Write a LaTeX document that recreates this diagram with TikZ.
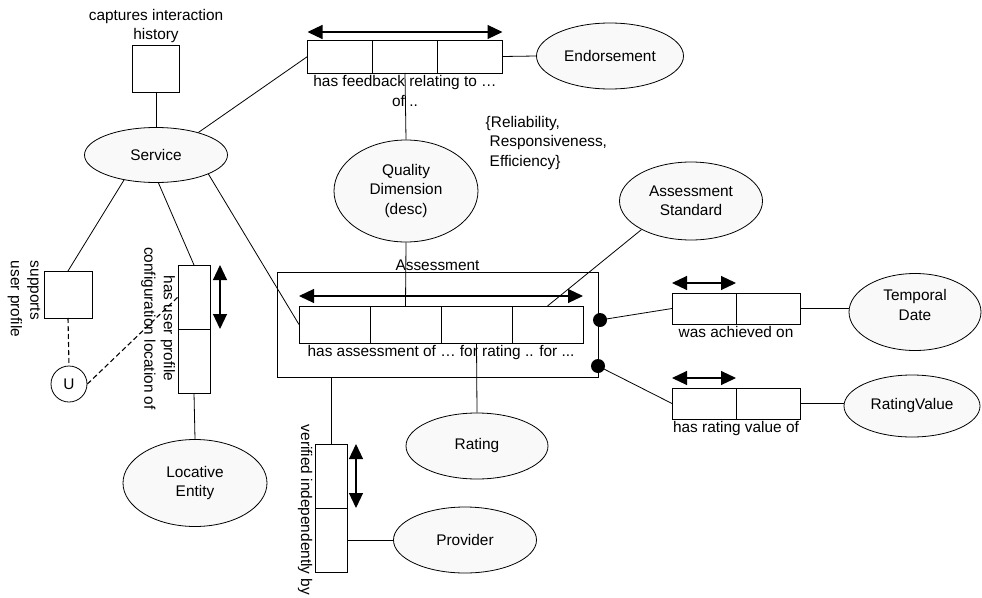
\documentclass[tikz,border=0pt]{standalone}
\usepackage{fontspec}
\setmainfont{Liberation Sans}
\usepackage{tikz}
\usetikzlibrary{shapes.geometric,arrows.meta}
\definecolor{entfill}{RGB}{249,249,249}

\begin{document}
\begin{tikzpicture}[x=1pt,y=-1pt,line width=0.8pt,
    font=\fontsize{15.4}{19.5}\selectfont,
    entity/.style={ellipse,draw,fill=entfill,inner sep=0pt,align=center},
    cell/.style={rectangle,draw,inner sep=0pt,outer sep=0pt},
    dblarrow/.style={<->,>={Triangle[length=15pt,width=14pt]},line width=1.1pt},
    dashlink/.style={dash pattern=on 5pt off 3pt,line width=1.1pt}]
 \useasboundingbox (0,0) rectangle (982,597);

 % entities
 \node[entity,minimum width=143pt,minimum height=55pt] (svc) at (156,155) {Service};
 \node[entity,minimum width=147pt,minimum height=66pt] (endo) at (610,56) {Endorsement};
 \node[entity,minimum width=144pt,minimum height=102pt] (qd) at (406,191) {Quality\\Dimension\\(desc)};
 \node[entity,minimum width=143pt,minimum height=78pt] (asstd) at (691,201) {Assessment\\Standard};
 \node[entity,minimum width=132pt,minimum height=77pt] (tmp) at (915,312) {Temporal\\Date\\[-5pt]};
 \node[entity,minimum width=136pt,minimum height=62pt] (rval) at (912,406) {RatingValue};
 \node[entity,minimum width=144pt,minimum height=87pt] (loce) at (195,483) {Locative\\Entity};
 \node[entity,minimum width=142pt,minimum height=66pt] (rating) at (477,446) {Rating};
 \node[entity,minimum width=143pt,minimum height=66pt] (prov) at (465,540) {Provider};

 % single boxes and U
 \node[cell,minimum width=47pt,minimum height=47pt,
   label={[align=center,inner sep=2pt]above:captures interaction\\history}] (hist) at (156,69) {};
 \node[cell,minimum width=48pt,minimum height=47pt] (sup) at (68,294.5) {};
 \node[circle,draw,minimum size=36pt,inner sep=0pt] (u) at (69,384) {U};
 \node[rotate=-90,align=left] (suplbl) at (24,299) {supports\\user profile};

 % feedback relation
 \node[cell,minimum width=65pt,minimum height=33pt] (fb1) at (340,56.5) {};
 \node[cell,minimum width=65pt,minimum height=33pt] (fb2) at (405,56.5) {};
 \node[cell,minimum width=65pt,minimum height=33pt] (fb3) at (470,56.5) {};
 \draw[dblarrow] ([yshift=8pt]fb1.north west) -- ([yshift=8pt]fb3.north east);
 \node[anchor=north,align=center,inner sep=2pt] (fblbl) at (fb2.south) {has feedback relating to …\\of ..};
 \node[anchor=west,align=left] (dims) at (482,143) {\{Reliability,\\\hspace{4pt}Responsiveness,\\\hspace{4pt}Efficiency\}};

 % assessment relation
 \node[cell,minimum width=321pt,minimum height=105pt,
   label={[inner sep=1pt]above:Assessment}] (asmt) at (437.5,324.5) {};
 \node[cell,minimum width=71pt,minimum height=37pt] (as1) at (334.5,324.5) {};
 \node[cell,minimum width=71pt,minimum height=37pt] (as2) at (405.5,324.5) {};
 \node[cell,minimum width=71pt,minimum height=37pt] (as3) at (476.5,324.5) {};
 \node[cell,minimum width=71pt,minimum height=37pt] (as4) at (547.5,324.5) {};
 \draw[dblarrow] ([yshift=10pt]as1.north west) -- ([yshift=10pt]as4.north east);
 \node[anchor=north,inner sep=2pt] (aslbl) at (as2.south east) {has assessment of … for rating .. for ...};

 % was achieved on
 \node[cell,minimum width=64pt,minimum height=31pt] (ach1) at (704,308.5) {};
 \node[cell,minimum width=64pt,minimum height=31pt] (ach2) at (768,308.5) {};
 \draw[dblarrow] ([yshift=10pt]ach1.north west) -- ([yshift=10pt]ach1.north east);
 \node[anchor=north,inner sep=2pt] (achlbl) at (ach1.south east) {was achieved on};

 % has rating value of
 \node[cell,minimum width=64pt,minimum height=31pt] (rv1) at (704,403.5) {};
 \node[cell,minimum width=64pt,minimum height=31pt] (rv2) at (768,403.5) {};
 \draw[dblarrow] ([yshift=10pt]rv1.north west) -- ([yshift=10pt]rv1.north east);
 \node[anchor=north,inner sep=2pt] (rvlbl) at (rv1.south east) {has rating value of};

 % location of
 \node[cell,minimum width=32pt,minimum height=64pt] (loc1) at (194,297) {};
 \node[cell,minimum width=32pt,minimum height=64pt] (loc2) at (194,361) {};
 \draw[dblarrow] ([xshift=10pt]loc1.north east) -- ([xshift=10pt]loc1.south east);
 \node[rotate=-90,align=center] (loclbl) at (158,328.5) {has user profile\\configuration location of};

 % verified by
 \node[cell,minimum width=32pt,minimum height=64pt] (ver1) at (331,476) {};
 \node[cell,minimum width=32pt,minimum height=64pt] (ver2) at (331,540) {};
 \draw[dblarrow] ([xshift=9pt]ver1.north east) -- ([xshift=9pt]ver1.south east);
 \node[rotate=-90] (verlbl) at (305,510) {verified independently by};

 \coordinate (dA) at (600,320);
 \fill (dA) circle (7pt);
 \coordinate (dB) at (598,366);
 \fill (dB) circle (7pt);

 % links
 \draw (hist.south) -- (svc.north);
 \draw (svc.28) -- (fb1.west);
 \draw (fb3.east) -- (endo.west);
 \draw (fb2.south) -- (qd.north);
 \draw (qd.south) -- (as2.north);
 \draw (svc.-20) -- (as1.west);
 \draw (asstd.-150) -- (as4.north);
 \draw (as3.south) -- (rating.north);
 \draw (asmt.south -| ver1) -- (ver1.north);
 \draw (ver2.east) -- (prov.west);
 \draw (dA) -- (ach1.west);
 \draw (dB) -- (rv1.west);
 \draw (ach2.east) -- (ach2.east -| tmp.west);
 \draw (rv2.east) -- (rv2.east -| rval.west);
 \draw (svc.-142) -- (sup.north);
 \draw (svc.-85) -- (loc1.north);
 \draw (loc2.south) -- (loce.north);
 \draw[dashlink] (sup.south) -- (u.north);
 \draw[dashlink] (u.east) -- (loc1.west);
\end{tikzpicture}
\end{document}
